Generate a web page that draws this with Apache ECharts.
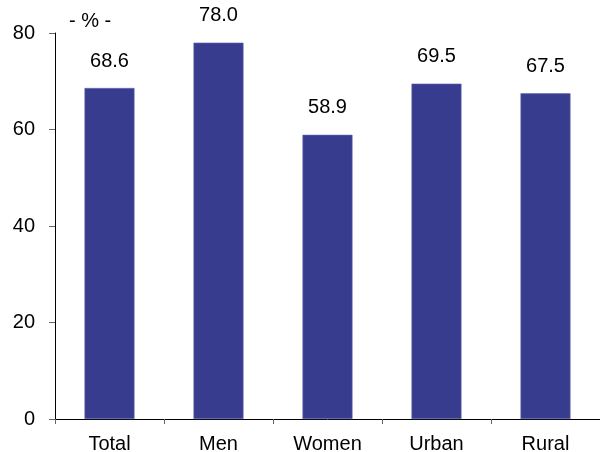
<!DOCTYPE html>
<html><head><meta charset="utf-8">
<script src="https://cdn.jsdelivr.net/npm/echarts@6/dist/echarts.min.js"></script>
<style>html,body{margin:0;padding:0;background:#fff}#c{width:600px;height:452px}</style>
</head><body><div id="c"></div>
<script>
const categories = ["Total", "Men", "Women", "Urban", "Rural"];
const values = [68.6, 78.0, 58.9, 69.5, 67.5];
const yTicks = [0, 20, 40, 60, 80];
const unitLabel = "- % -";

const chart = echarts.init(document.getElementById('c'), null, {renderer: 'canvas'});
const font = 'Liberation Sans, Arial, sans-serif';
chart.setOption({
  animation: false,
  backgroundColor: '#fff',
  title: {text: unitLabel, left: 69, top: 11, padding: 0, textStyle: {fontFamily: font, fontSize: 20, fontWeight: 'normal', color: '#000'}},
  grid: {left: 55, right: 0, top: 33, bottom: 33, containLabel: false, outerBoundsMode: 'none'},
  xAxis: {
    type: 'category', data: categories,
    axisLine: {lineStyle: {color: '#000', width: 1}},
    axisTick: {show: true, length: 5, lineStyle: {color: '#666'}},
    axisLabel: {fontFamily: font, fontSize: 20, color: '#000', margin: 15}
  },
  yAxis: {
    type: 'value', min: 0, max: 80, interval: 20,
    axisLine: {show: true, lineStyle: {color: '#000', width: 1}},
    axisTick: {show: true, length: 6, lineStyle: {color: '#666'}},
    splitLine: {show: false},
    axisLabel: {fontFamily: font, fontSize: 20, color: '#000', margin: 20,
      formatter: v => yTicks.includes(v) ? String(v) : ''}
  },
  series: [{
    type: 'bar', data: values, barWidth: 50,
    itemStyle: {color: '#383c8f', borderColor: '#6468b0', borderWidth: 0.6},
    label: {show: true, position: 'top', distance: 17, fontFamily: font, fontSize: 20, color: '#000',
      formatter: p => p.value.toFixed(1)}
  }]
});
</script></body></html>
